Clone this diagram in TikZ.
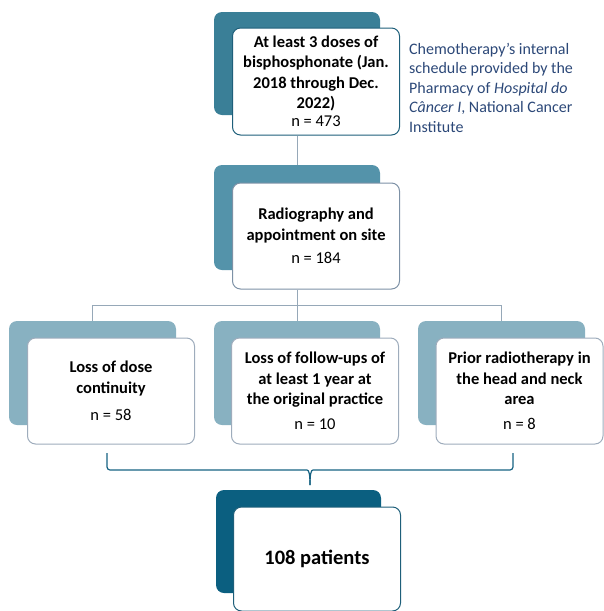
\documentclass[tikz,border=0pt]{standalone}
\usepackage{fontspec}
\setmainfont{Carlito}
\definecolor{topback}{RGB}{58,127,151}
\definecolor{midback}{RGB}{84,147,170}
\definecolor{rowback}{RGB}{136,177,193}
\definecolor{endback}{RGB}{11,95,128}
\definecolor{topedge}{RGB}{30,95,122}
\definecolor{midedge}{RGB}{125,145,166}
\definecolor{rowedge}{RGB}{158,172,188}
\definecolor{linkgray}{RGB}{150,168,184}
\definecolor{bracecol}{RGB}{22,98,130}
\definecolor{notecol}{RGB}{44,72,120}
\tikzset{
  backbox/.style={rounded corners=8pt, inner sep=0pt},
  frontbox/.style={draw, fill=white, rounded corners=8pt, line width=1pt,
    minimum width=167pt, inner sep=2pt, align=center,
    font=\fontsize{16.5}{20.5}\selectfont},
  link/.style={draw=linkgray, line width=1pt},
}
\begin{document}
\begin{tikzpicture}[x=1pt,y=-1pt]
    \useasboundingbox (0,0) rectangle (604,611);
    % back shapes
    \node[backbox, fill=topback, minimum width=166pt, minimum height=103pt] (topb) at (297,63.5) {};
    \node[backbox, fill=midback, minimum width=166pt, minimum height=105pt] (midb) at (297,217.5) {};
    \node[backbox, fill=rowback, minimum width=167pt, minimum height=104pt] (lossb) at (92.5,373) {};
    \node[backbox, fill=rowback, minimum width=166pt, minimum height=104pt] (folb) at (297,373) {};
    \node[backbox, fill=rowback, minimum width=167pt, minimum height=104pt] (radb) at (501.5,373) {};
    \node[backbox, fill=endback, minimum width=165pt, minimum height=103pt] (endb) at (298.5,541.5) {};
    % front boxes
    \node[frontbox, draw=topedge, minimum height=107pt] (top) at (316,81.5)
        {\textbf{At least 3 doses of}\\ \textbf{bisphosphonate (Jan.}\\ \textbf{2018 through Dec.}\\ \textbf{2022)}\\[-2.5pt] n = 473};
    \node[frontbox, draw=midedge, minimum height=106pt] (mid) at (316,236)
        {\textbf{Radiography and}\\ \textbf{appointment on site}\\[3pt] n = 184};
    \node[frontbox, draw=rowedge, minimum height=106pt] (loss) at (111,391)
        {\textbf{Loss of dose}\\ \textbf{continuity}\\[7pt] n = 58};
    \node[frontbox, draw=rowedge, minimum height=106pt] (fol) at (315,391)
        {\textbf{Loss of follow-ups of}\\ \textbf{at least 1 year at}\\ \textbf{the original practice}\\[4pt] n = 10};
    \node[frontbox, draw=rowedge, minimum height=106pt] (rad) at (519.5,391)
        {\textbf{Prior radiotherapy in}\\ \textbf{the head and neck}\\ \textbf{area}\\[4pt] n = 8};
    \node[frontbox, draw=topedge, minimum height=104pt, font=\fontsize{20.5}{24}\selectfont] (total) at (317,559)
        {\textbf{108 patients}};
    % note
    \node[anchor=north west, align=left, text=notecol, inner sep=0pt,
        font=\fontsize{16}{19.5}\selectfont] (note) at (409,43)
        {Chemotherapy’s internal\\ schedule provided by the\\ Pharmacy of \textit{Hospital do}\\ \textit{Câncer I}, National Cancer\\ Institute};
    % links
    \draw[link] (topb.center |- top.south) -- (midb.north);
    \draw[link] (midb.center |- mid.south) -- ++(0,16) coordinate (split);
    \draw[link] (lossb.north) |- (split) -| (radb.north);
    \draw[link] (split) -- (folb.north);
    % brace
    \coordinate (bl) at (107,453);
    \coordinate (br) at (513,453);
    \coordinate (tip) at (310,485);
    \draw[bracecol, line width=1.2pt, rounded corners=3pt] (bl) -- (107,470) -- (304,470)
        .. controls (309,470) and (310,474) .. (tip);
    \draw[bracecol, line width=1.2pt, rounded corners=3pt] (br) -- (513,470) -- (316,470)
        .. controls (311,470) and (310,474) .. (tip);
\end{tikzpicture}
\end{document}
